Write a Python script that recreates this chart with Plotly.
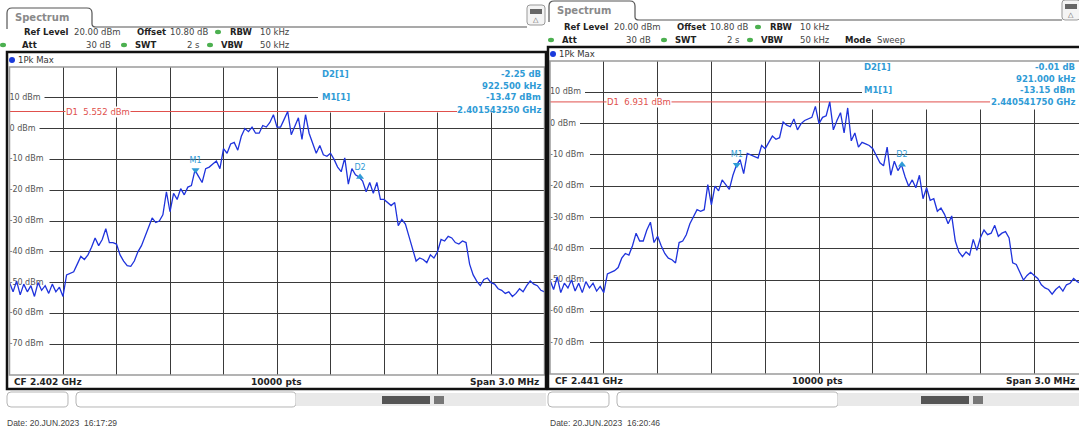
import numpy as np
import plotly.graph_objects as go

W, H = 1079, 430

# ---------------- data ----------------
cf_left_ghz = 2.402
cf_right_ghz = 2.441
span_khz = 3000
n_points_label = "10000 pts"

level_left = [
    -50, -53, -49.5, -54, -50.5, -53, -51, -54.5, -50, -52.5,
    -51, -53.5, -50.5, -53, -51.5, -54.5, -47.5, -47, -46.5, -44,
    -41.5, -42.5, -41, -38.5, -35.5, -38, -36, -32.5, -37, -37,
    -37.5, -41, -43, -44.5, -44.7, -43, -40, -38, -35, -31.5,
    -29, -30.5, -30, -28, -20.5, -27, -21, -23, -19.5, -21.5,
    -19, -18.5, -13.5, -15.5, -17.5, -13, -12.5, -11.5, -10.5, -13,
    -6.5, -8, -5, -4.5, -7, -2.5, 0, -1, 0.5, -1.5,
    -1.5, 1, 0.5, 2, 4.5, 0.5, 0.5, 3, 5.55, -2,
    1, 3.5, -3.5, 4.5, -1.5, -4.5, -8, -5.5, -8.5, -9,
    -8, -10, -12.5, -14, -9.5, -18, -13, -15, -15.7, -17,
    -20.5, -17.5, -21, -17.5, -23, -23, -24, -25, -24, -31.5,
    -29.5, -31, -35, -39, -43, -42, -42.5, -43.5, -41, -42,
    -40, -36, -36.5, -35, -35.5, -37, -37.5, -36.5, -37, -44,
    -47.5, -49.5, -51, -49, -48.5, -50, -50.5, -52, -52.5, -53.5,
    -53, -54.5, -53.5, -52, -53, -51, -49.5, -50.5, -51, -52.5,
    -53,
]

level_right = [
    -50, -53, -49, -54, -51, -52.5, -50, -53.5, -51, -54,
    -50.5, -52.5, -51, -53.5, -52, -54, -48, -47.5, -47, -46,
    -43, -41.5, -42, -39, -35, -37.5, -37.5, -34, -31.5, -38,
    -36, -39, -41.5, -43, -43.5, -44.5, -38, -37.5, -35.5, -32,
    -29.5, -27.5, -28, -27.5, -19.5, -26, -20, -21.5, -18, -19.5,
    -21, -16.5, -13.2, -11.5, -16, -9.5, -10, -10.5, -11, -7,
    -8, -6, -4, -5, -4.5, 0.5, -0.5, -1, 1.5, -2,
    0, 1, 1.5, 2, 5.5, 0, 2, 2.5, 6.93, -2,
    1, 3.5, -3, 5, -5.5, -3, -7.5, -6, -6.5, -7,
    -8, -10.5, -12.5, -13.5, -7.5, -16.5, -12, -15, -13.2, -17,
    -20, -18, -20.5, -16.5, -24, -20.5, -24.5, -24, -28, -27,
    -29, -32, -29.5, -37.5, -41, -42.5, -41, -42, -37, -40.5,
    -36.5, -34, -35.5, -35, -32.5, -36, -35, -34.5, -36.5, -44.5,
    -45, -47.5, -50, -48.5, -47.5, -48.5, -49.5, -51.5, -52.5, -53,
    -54.5, -53, -52, -53.5, -51.5, -51, -49.5, -50.5, -51, -52,
    -52.5,
]

ytick_vals = [10, 0, -10, -20, -30, -40, -50, -60, -70]
ytick_text = ["10 dBm", "0 dBm", "-10 dBm", "-20 dBm", "-30 dBm", "-40 dBm",
              "-50 dBm", "-60 dBm", "-70 dBm"]

d1_left, d1_right = 5.552, 6.931
m1_left_ghz, m1_left_dbm = 2.401543250, -13.47
m1_right_ghz, m1_right_dbm = 2.440541750, -13.15
d2_left_khz, d2_left_db = 922.5, -2.25
d2_right_khz, d2_right_db = 921.0, -0.01

date_left = "Date: 20.JUN.2023  16:17:29"
date_right = "Date: 20.JUN.2023  16:20:46"

# ---------------- helpers ----------------
FONT = "DejaVu Sans"
CYAN = "#2f9bd6"
RED = "#e0504c"
BLUE = "#1f33dc"
GRID = "#3a3a3a"

shapes, annotations = [], []


def px(x):
    return x / W


def py(y):
    return 1 - y / H


def txt(x, y, s, size=8.5, color="#222", bold=False, anchor="left",
        family=FONT, bg=None, xref="paper", yref="paper"):
    d = dict(x=px(x) if xref == "paper" else x,
             y=py(y) if yref == "paper" else y,
             xref=xref, yref=yref,
             text=("<b>%s</b>" % s) if bold else s, showarrow=False,
             xanchor=anchor, yanchor="middle",
             font=dict(size=size, color=color, family=family))
    if bg:
        d["bgcolor"] = bg
        d["borderpad"] = 0
    annotations.append(d)


def rect(x0, y0, x1, y1, line=None, lw=0, fill=None, layer="above"):
    shapes.append(dict(type="rect", xref="paper", yref="paper",
                       x0=px(x0), x1=px(x1), y0=py(y1), y1=py(y0),
                       line=dict(color=line or "rgba(0,0,0,0)", width=lw),
                       fillcolor=fill or "rgba(0,0,0,0)", layer=layer))


def circle(cx, cy, rx, ry, fill):
    shapes.append(dict(type="circle", xref="paper", yref="paper",
                       x0=px(cx - rx), x1=px(cx + rx), y0=py(cy + ry), y1=py(cy - ry),
                       line=dict(width=0), fillcolor=fill, layer="above"))


def path(cmds, line="#444", lw=1, fill=None):
    parts = []
    for c in cmds:
        op, vals = c[0], c[1:]
        coords = []
        for i in range(0, len(vals), 2):
            coords.append("%.5f,%.5f" % (px(vals[i]), py(vals[i + 1])))
        parts.append(op + " " + " ".join(coords))
    shapes.append(dict(type="path", xref="paper", yref="paper", path=" ".join(parts),
                       line=dict(color=line, width=lw),
                       fillcolor=fill or "rgba(0,0,0,0)", layer="above"))


def rrect(x0, y0, x1, y1, r, line="#aaa", lw=1, fill="white"):
    path([("M", x0 + r, y0), ("L", x1 - r, y0), ("Q", x1, y0, x1, y0 + r),
          ("L", x1, y1 - r), ("Q", x1, y1, x1 - r, y1), ("L", x0 + r, y1),
          ("Q", x0, y1, x0, y1 - r), ("L", x0, y0 + r), ("Q", x0, y0, x0 + r, y0), ("Z",)],
         line=line, lw=lw, fill=fill)


# ---------------- panel geometry (pixels) ----------------
panels = [
    dict(cf=cf_left_ghz, levels=level_left, d1=d1_left, m1_ghz=m1_left_ghz,
         m1_dbm=m1_left_dbm, d2_khz=d2_left_khz, d2_db=d2_left_db, date=date_left,
         gx0=9.5, gx1=544.5, gy0=67, gy1=375, fx0=7, fx1=546, fy0=52, fy1=389,
         xa="x", ya="y", off=0, hdr_y=(32, 45), tab=(7, 8, 92, 27, 527),
         icon=(527, 4), pkmax_y=60, box_px=318, box_bottom=5.2,
         red_end_px=457, d1_text_px=65, info=(320, 74, 543),
         bottom=(12, 382, 276, 541), bar=(296, 382), date_y=423, date_x=5),
    dict(cf=cf_right_ghz, levels=level_right, d1=d1_right, m1_ghz=m1_right_ghz,
         m1_dbm=m1_right_dbm, d2_khz=d2_right_khz, d2_db=d2_right_db, date=date_right,
         gx0=550, gx1=1088, gy0=61, gy1=374, fx0=548, fx1=1092, fy0=47, fy1=389,
         xa="x2", ya="y2", off=540, hdr_y=(27, 40), tab=(549, 1, 635, 20, 1062),
         icon=(1062, -1), pkmax_y=54, box_px=862, box_bottom=4.5,
         red_end_px=990, d1_text_px=606, info=(862, 67, 1077),
         bottom=(553, 381, 818, 1077), bar=(838, 921), date_y=423, date_x=548),
]

fig = go.Figure()
layout_axes = {}

for k, p in enumerate(panels):
    khz_per_px = span_khz / (p["gx1"] - p["gx0"])
    x_lo = -span_khz / 2
    x_hi = x_lo + (min(p["gx1"], W) - p["gx0"]) * khz_per_px
    freq = np.linspace(-span_khz / 2, span_khz / 2, len(p["levels"]))
    sfx = "" if k == 0 else "2"

    layout_axes["xaxis" + sfx] = dict(
        domain=[px(p["gx0"]), min(1.0, px(p["gx1"]))], range=[x_lo, x_hi],
        tick0=-span_khz / 2, dtick=span_khz / 10, showgrid=True, gridcolor=GRID,
        gridwidth=1, zeroline=False, showticklabels=False, showline=False,
        fixedrange=True, anchor="y" + sfx)
    layout_axes["yaxis" + sfx] = dict(
        domain=[py(p["gy1"]), py(p["gy0"])], range=[-80, 20], tick0=-80, dtick=10,
        showgrid=True, gridcolor=GRID, gridwidth=1, zeroline=False,
        showticklabels=False, showline=False, fixedrange=True, anchor="x" + sfx)

    # white gaps behind tick labels
    for v, s in zip(ytick_vals, ytick_text):
        wpx = 5 + len(s) * 5.0
        shapes.append(dict(type="rect", xref=p["xa"], yref=p["ya"],
                           x0=x_lo, x1=x_lo + wpx * khz_per_px, y0=v - 1.3, y1=v + 1.3,
                           line=dict(width=0), fillcolor="white", layer="between"))
    # marker info box
    shapes.append(dict(type="rect", xref=p["xa"], yref=p["ya"],
                       x0=x_lo + (p["box_px"] - p["gx0"]) * khz_per_px, x1=span_khz / 2,
                       y0=p["box_bottom"], y1=20, line=dict(width=0),
                       fillcolor="white", layer="between"))
    # D1 display line
    shapes.append(dict(type="line", xref=p["xa"], yref=p["ya"], x0=x_lo,
                       x1=x_lo + (p["red_end_px"] - p["gx0"]) * khz_per_px,
                       y0=p["d1"], y1=p["d1"], line=dict(color=RED, width=1),
                       layer="between"))

    # tick labels (drawn under the trace)
    fig.add_trace(go.Scatter(x=[x_lo] * len(ytick_vals), y=ytick_vals, text=ytick_text,
                             mode="text", textposition="middle right",
                             textfont=dict(size=8, color="#555", family=FONT),
                             xaxis=p["xa"], yaxis=p["ya"], hoverinfo="skip",
                             showlegend=False, cliponaxis=False))
    # spectrum trace
    fig.add_trace(go.Scatter(x=freq, y=p["levels"], mode="lines",
                             line=dict(color=BLUE, width=1.3),
                             xaxis=p["xa"], yaxis=p["ya"], showlegend=False))
    # markers
    m1_off = (p["m1_ghz"] - p["cf"]) * 1e6
    fig.add_trace(go.Scatter(x=[m1_off], y=[p["m1_dbm"]], mode="markers+text",
                             text=["M1"], textposition="top center",
                             textfont=dict(size=8, color=CYAN, family=FONT),
                             marker=dict(symbol="triangle-down", size=7, color=CYAN),
                             xaxis=p["xa"], yaxis=p["ya"], showlegend=False))
    fig.add_trace(go.Scatter(x=[m1_off + p["d2_khz"]], y=[p["m1_dbm"] + p["d2_db"]],
                             mode="markers+text", text=["D2"], textposition="top center",
                             textfont=dict(size=8, color=CYAN, family=FONT),
                             marker=dict(symbol="triangle-up", size=7, color=CYAN),
                             xaxis=p["xa"], yaxis=p["ya"], showlegend=False))

    # D1 label
    txt(x_lo + (p["d1_text_px"] - p["gx0"]) * khz_per_px, p["d1"],
        "D1  %.3f dBm" % p["d1"], size=8.5, color=RED, bg="white",
        xref=p["xa"], yref=p["ya"])

    # marker info texts
    ix, iy, ir = p["info"]
    txt(ix, iy, "D2[1]", size=8.5, color=CYAN, bold=True)
    txt(ir, iy, "%.2f dB" % p["d2_db"], size=8.5, color=CYAN, bold=True, anchor="right")
    txt(ir, iy + 11.5, "%.3f kHz" % p["d2_khz"], size=8.5, color=CYAN, bold=True, anchor="right")
    txt(ix, iy + 23, "M1[1]", size=8.5, color=CYAN, bold=True)
    txt(ir, iy + 23, "%.2f dBm" % p["m1_dbm"], size=8.5, color=CYAN, bold=True, anchor="right")
    txt(ir, iy + 35.5, "%.9f GHz" % p["m1_ghz"], size=8.5, color=CYAN, bold=True, anchor="right")

    # grid border & frame
    rect(p["gx0"], p["gy0"], p["gx1"], p["gy1"], line="#9a9a9a", lw=1.5)
    rect(p["fx0"], p["fy0"], p["fx1"], p["fy1"], line="#111", lw=2.5)

    # header: tab
    tx0, ty0, tx1, ty1, tend = p["tab"]
    path([("M", tx0, ty1 + 2), ("L", tx0, ty0 + 5), ("Q", tx0, ty0, tx0 + 5, ty0),
          ("L", tx1 - 5, ty0), ("Q", tx1, ty0, tx1, ty0 + 5), ("L", tx1, ty1 - 3),
          ("Q", tx1, ty1, tx1 + 4, ty1), ("L", tend, ty1)], line="#555", lw=1.2)
    txt(tx0 + 6, ty0 + 9, "Spectrum", size=10, color="#8a8a8a", bold=True)
    # status icon
    icx, icy = p["icon"]
    rrect(icx, icy + 1, icx + 18, icy + 21, 3, line="#999", lw=1, fill="#f4f4f4")
    rect(icx + 3, icy + 5, icx + 15, icy + 10, fill="#666")
    txt(icx + 9, icy + 16, "△", size=7, color="#555", anchor="center")

    o = p["off"]
    y1, y2 = p["hdr_y"]
    txt(22 + o, y1, "Ref Level", bold=True)
    txt(72 + o, y1, "20.00 dBm", color="#444")
    txt(135 + o, y1, "Offset", bold=True)
    txt(168 + o, y1, "10.80 dB", color="#444")
    circle(218 + o, y1, 3, 2.2, "#4cb050")
    txt(228 + o, y1, "RBW", bold=True)
    txt(258 + o, y1, "10 kHz", color="#444")
    circle(3 + o + (8 if k else 0), y2, 3, 2.2, "#4cb050")
    txt(20 + o, y2, "Att", bold=True)
    txt(113 + o, y2, "30 dB", color="#444", anchor="right")
    circle(124 + o, y2, 3, 2.2, "#4cb050")
    txt(133 + o, y2, "SWT", bold=True)
    txt(202 + o, y2, "2 s", color="#444", anchor="right")
    circle(210 + o, y2, 3, 2.2, "#4cb050")
    txt(219 + o, y2, "VBW", bold=True)
    txt(258 + o, y2, "50 kHz", color="#444")
    if k == 1:
        txt(843, y2, "Mode", bold=True)
        txt(875, y2, "Sweep", color="#444")

    # 1Pk Max row
    circle(p["fx0"] + 5, p["pkmax_y"], 3, 3, "#1a3adb")
    txt(p["fx0"] + 9, p["pkmax_y"], "1Pk Max", size=8.5, color="#333")

    # bottom info row
    bx, by, bc, br = p["bottom"]
    txt(bx, by, "CF %.3f GHz" % p["cf"], size=9, bold=True)
    txt(bc, by, n_points_label, size=9, bold=True, anchor="center")
    txt(br, by, "Span %.1f MHz" % (span_khz / 1000), size=9, bold=True, anchor="right")

    # status bar below the frame
    fx0 = p["fx0"]
    b0, dark0 = p["bar"]
    rrect(fx0, 392, fx0 + 61, 407, 4, line="#b5b5b5")
    rrect(fx0 + 69, 392, b0, 407, 4, line="#b5b5b5")
    rect(b0, 393, min(p["fx1"], W), 406, fill="#e9e9e9")
    rect(dark0, 396, dark0 + 48, 404, fill="#555")
    rect(dark0 + 52, 396, dark0 + 62, 404, fill="#777")

    txt(p["date_x"], p["date_y"], p["date"], size=8.5, color="#444",
        family="Liberation Sans")

fig.update_layout(
    width=W, height=H, margin=dict(l=0, r=0, t=0, b=0),
    paper_bgcolor="white", plot_bgcolor="white",
    shapes=shapes, annotations=annotations, showlegend=False,
    **layout_axes,
)

fig.write_html("out.html")
